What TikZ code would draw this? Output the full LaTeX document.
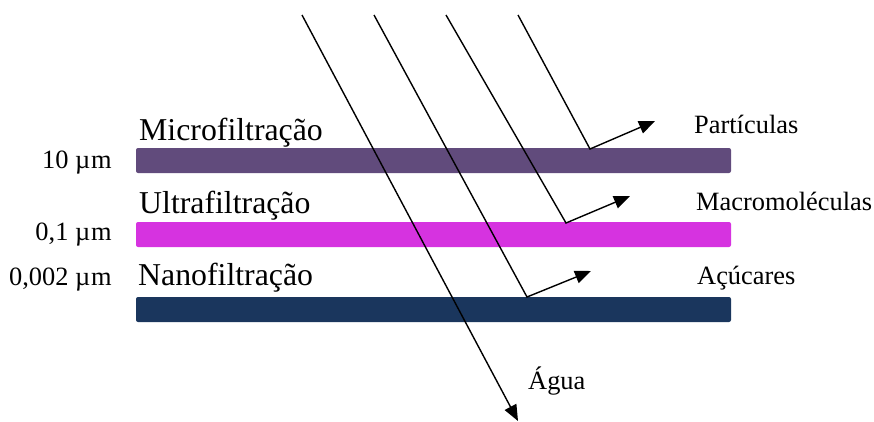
\documentclass[tikz,border=0pt]{standalone}
\usepackage{fontspec}
\setmainfont{Liberation Serif}
\usetikzlibrary{arrows.meta}
\definecolor{microcol}{HTML}{614B7C}
\definecolor{ultracol}{HTML}{D633E0}
\definecolor{nanocol}{HTML}{1A365D}
\tikzset{
  membrane/.style={minimum width=595pt, minimum height=25pt, inner sep=0pt,
    rounded corners=2pt, draw=none},
  bigtxt/.style={inner sep=0pt, font=\fontsize{31.8}{36}\selectfont},
  smalltxt/.style={inner sep=0pt, font=\fontsize{26.4}{30}\selectfont},
  flow/.style={line width=1.4pt, -{Triangle[length=16pt,width=13pt]}},
}
\begin{document}
\begin{tikzpicture}[x=1pt, y=-1pt]
\useasboundingbox (0,0) rectangle (874,421);

% membranes
\node[membrane, fill=microcol] (mf) at (433.5,160.5) {};
\node[membrane, fill=ultracol] (uf) at (433.5,234.5) {};
\node[membrane, fill=nanocol]  (nf) at (433.5,309.5) {};

% membrane names
\node[bigtxt, anchor=base west] (mfname) at (139,140) {Microfiltração};
\node[bigtxt, anchor=base west] (ufname) at (139,213) {Ultrafiltração};
\node[bigtxt, anchor=base west] (nfname) at (138,285) {Nanofiltração};

% pore sizes
\node[smalltxt, anchor=base east] (mfsize) at (112,168) {10 µ\kern1pt m};
\node[smalltxt, anchor=base east] (ufsize) at (112,240) {0,1 µ\kern1pt m};
\node[smalltxt, anchor=base east] (nfsize) at (112,285) {0,002 µ\kern1pt m};

% retained species and permeate
\node[smalltxt, anchor=base west] (part) at (694,133) {Partículas};
\node[smalltxt, anchor=base west] (macro) at (696,210) {Macromoléculas};
\node[smalltxt, anchor=base west] (acuc) at (697,284) {Açúcares};
\node[smalltxt, anchor=base west] (agua) at (528,389) {Água};

% incoming streams
\coordinate (s1) at (302,15);
\coordinate (s2) at (374,15);
\coordinate (s3) at (446,15);
\coordinate (s4) at (518,15);

% rejection points on the membranes
\coordinate (r4) at (590,149);
\coordinate (r3) at (566,223);
\coordinate (r2) at (527,297);

% ends of the streams
\coordinate (e4) at (655,121);
\coordinate (e3) at (630,196);
\coordinate (e2) at (591,271);
\coordinate (e1) at (518,421);

\draw[flow] (s1) -- (e1);
\draw[flow] (s2) -- (r2) -- (e2);
\draw[flow] (s3) -- (r3) -- (e3);
\draw[flow] (s4) -- (r4) -- (e4);
\end{tikzpicture}
\end{document}
